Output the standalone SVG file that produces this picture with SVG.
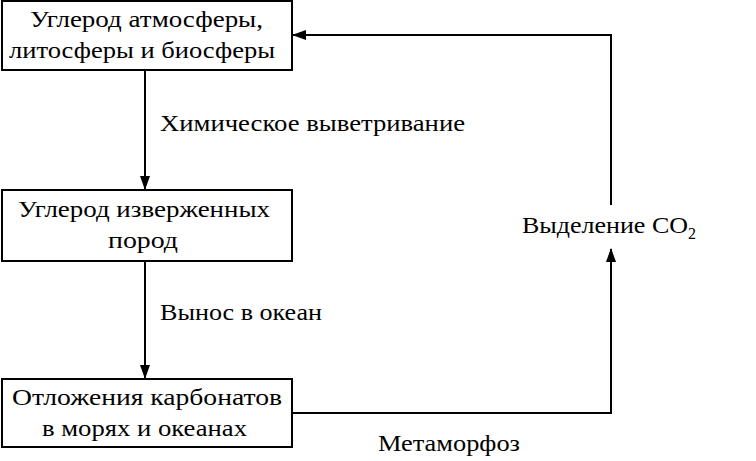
<svg xmlns="http://www.w3.org/2000/svg" width="756" height="461" viewBox="0 0 756 461">
<style>
.b{fill:#fff;stroke:#000;stroke-width:2}
.t{font-family:"Liberation Serif",serif;font-size:24px;fill:#000}
.l{fill:none;stroke:#000;stroke-width:2}
</style>
<defs><marker id="a" markerWidth="14" markerHeight="10" refX="13" refY="5" orient="auto" markerUnits="userSpaceOnUse"><path d="M0,0L14,5L0,10z" fill="#000"/></marker></defs>
<rect width="756" height="461" fill="#fff"/>
<g id="connectors">
<path class="l" d="M145,71V189" marker-end="url(#a)"/>
<path class="l" d="M145,262V378" marker-end="url(#a)"/>
<path class="l" d="M293,413H611V249" marker-end="url(#a)"/>
<path class="l" d="M611,205V35H293" marker-end="url(#a)"/>
<text class="t" x="160" y="131" textLength="305" lengthAdjust="spacingAndGlyphs">Химическое выветривание</text>
<text class="t" x="160" y="320" textLength="162" lengthAdjust="spacingAndGlyphs">Вынос в океан</text>
<text class="t" x="378" y="451" textLength="142" lengthAdjust="spacingAndGlyphs">Метаморфоз</text>
<text class="t" x="522" y="233"><tspan textLength="166" lengthAdjust="spacingAndGlyphs">Выделение CO</tspan><tspan font-size="16" dy="6">2</tspan></text>
</g>
<g id="n1"><rect class="b" x="2" y="1" width="290" height="69"/>
<text class="t" x="30" y="27" textLength="233" lengthAdjust="spacingAndGlyphs">Углерод атмосферы,</text><text class="t" x="9" y="58" textLength="266" lengthAdjust="spacingAndGlyphs">литосферы и биосферы</text></g>
<g id="n2"><rect class="b" x="2" y="190" width="290" height="71"/>
<text class="t" x="18" y="217" textLength="252" lengthAdjust="spacingAndGlyphs">Углерод изверженных</text><text class="t" x="108" y="248" textLength="70" lengthAdjust="spacingAndGlyphs">пород</text></g>
<g id="n3"><rect class="b" x="2" y="379" width="290" height="68"/>
<text class="t" x="12" y="405" textLength="270" lengthAdjust="spacingAndGlyphs">Отложения карбонатов</text><text class="t" x="42" y="436" textLength="205" lengthAdjust="spacingAndGlyphs">в морях и океанах</text></g>
</svg>
